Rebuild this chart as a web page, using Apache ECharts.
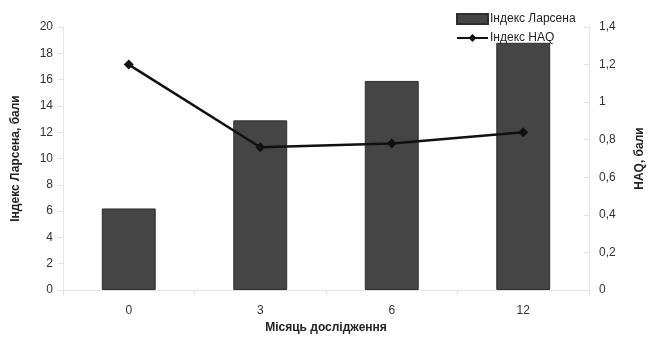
<!DOCTYPE html>
<html>
<head>
<meta charset="utf-8">
<script src="https://cdn.jsdelivr.net/npm/echarts@6/dist/echarts.min.js"></script>
<style>html,body{margin:0;padding:0;background:#fff;overflow:hidden}#c{width:100vw;height:100vh}</style>
</head>
<body>
<div id="c"></div>
<script>
const categories = ['0', '3', '6', '12'];
const larsenValues = [6.2, 12.9, 15.9, 18.8];
const haqValues = [1.2, 0.76, 0.78, 0.84];
const leftTicks = { min: 0, max: 20, interval: 2 };
const rightTicks = { min: 0, max: 1.4, interval: 0.2 };
const seriesNames = ['Індекс Ларсена', 'Індекс HAQ'];
const axisNames = { x: 'Місяць дослідження', left: 'Індекс Ларсена, бали', right: 'HAQ, бали' };

const font = 'Liberation Sans, Arial, sans-serif';
const chart = echarts.init(document.getElementById('c'), null, { renderer: 'canvas' });
chart.setOption({
  animation: false,
  backgroundColor: '#fff',
  textStyle: { fontFamily: font },
  grid: { left: 63, right: 56, top: 27, bottom: 59, containLabel: false },
  legend: {
    orient: 'vertical',
    left: 451,
    top: 8,
    itemGap: 7,
    itemWidth: 31,
    itemHeight: 10,
    textStyle: { fontFamily: font, fontSize: 12, color: '#222', padding: [0, 0, 0, -3] },
    data: [
      { name: seriesNames[0], icon: 'rect' },
      { name: seriesNames[1] }
    ]
  },
  xAxis: {
    type: 'category',
    data: categories,
    name: axisNames.x,
    nameLocation: 'middle',
    nameGap: 32,
    nameTextStyle: { fontFamily: font, fontSize: 12, fontWeight: 'bold', color: '#222' },
    axisLine: { show: true, lineStyle: { color: '#e4e4e4' } },
    axisTick: { show: true, length: 5, lineStyle: { color: '#e0e0e0' } },
    axisLabel: { fontFamily: font, fontSize: 12, color: '#333', margin: 15 }
  },
  yAxis: [
    {
      type: 'value',
      min: leftTicks.min, max: leftTicks.max, interval: leftTicks.interval,
      name: axisNames.left,
      nameLocation: 'middle',
      nameRotate: 90,
      nameGap: 41,
      nameTextStyle: { fontFamily: font, fontSize: 12, fontWeight: 'bold', color: '#222' },
      axisLine: { show: true, lineStyle: { color: '#e4e4e4' } },
      axisTick: { show: true, length: 5, lineStyle: { color: '#e0e0e0' } },
      axisLabel: { fontFamily: font, fontSize: 12, color: '#333', margin: 10 },
      splitLine: { show: false }
    },
    {
      type: 'value',
      position: 'right',
      min: rightTicks.min, max: rightTicks.max, interval: rightTicks.interval,
      name: axisNames.right,
      nameLocation: 'middle',
      nameRotate: 90,
      nameGap: 45,
      nameTextStyle: { fontFamily: font, fontSize: 12, fontWeight: 'bold', color: '#222' },
      axisLine: { show: true, lineStyle: { color: '#e4e4e4' } },
      axisTick: { show: true, inside: true, length: 5, lineStyle: { color: '#e0e0e0' } },
      axisLabel: {
        fontFamily: font, fontSize: 12, color: '#333', margin: 10,
        formatter: v => String(Math.round(v * 10) / 10).replace('.', ',')
      },
      splitLine: { show: false }
    }
  ],
  series: [
    {
      name: seriesNames[0],
      type: 'bar',
      yAxisIndex: 0,
      data: larsenValues,
      barWidth: '41%',
      itemStyle: { color: '#454545', borderColor: '#2e2e2e', borderWidth: 1 },
      z: 2
    },
    {
      name: seriesNames[1],
      type: 'line',
      yAxisIndex: 1,
      data: haqValues,
      symbol: 'diamond',
      symbolSize: 10,
      lineStyle: { color: '#111', width: 2.5 },
      itemStyle: { color: '#111' },
      z: 3
    }
  ]
});
</script>
</body>
</html>
